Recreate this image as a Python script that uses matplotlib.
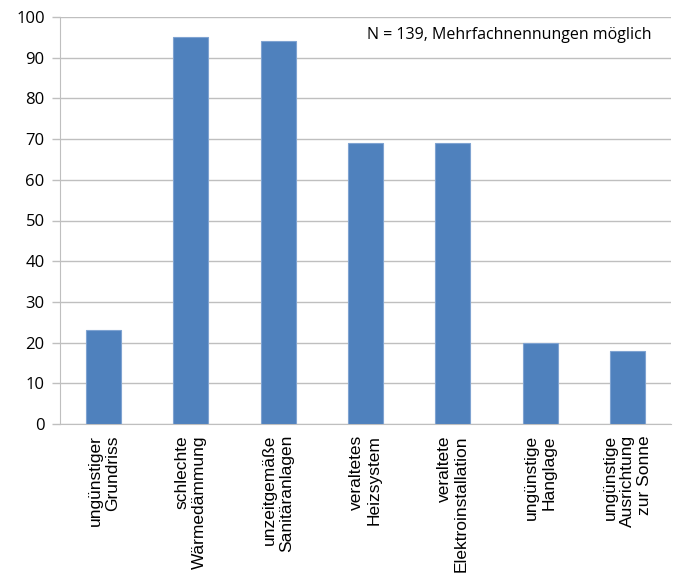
import matplotlib.pyplot as plt

categories = ["ungünstiger\nGrundriss", "schlechte\nWärmedämmung", "unzeitgemäße\nSanitäranlagen",
              "veraltetes\nHeizsystem", "veraltete\nElektroinstallation", "ungünstige\nHanglage",
              "ungünstige\nAusrichtung\nzur Sonne"]
values = [23, 95, 94, 69, 69, 20, 18]
yticks = list(range(0, 101, 10))
note = "N = 139, Mehrfachnennungen möglich"

fig = plt.figure(figsize=(6.78, 5.84), dpi=100)
ax = fig.add_axes([60 / 678, 1 - 424 / 584, 611 / 678, 407 / 584])

x = list(range(len(categories)))
ax.bar(x, values, width=0.4, color="#4F81BD", edgecolor="#7FA3D1", linewidth=0.8, zorder=3)

ax.set_xlim(-0.5, len(categories) - 0.5)
ax.set_ylim(0, 100)
ax.set_yticks(yticks)
ax.set_yticklabels([str(t) for t in yticks], fontsize=12, family="Open Sans")
ax.yaxis.grid(True, color="#BFBFBF", linewidth=1, zorder=0)
ax.tick_params(axis="y", length=6, color="#BFBFBF", width=1, pad=5)

ax.set_xticks(x)
ax.set_xticklabels(categories, rotation=90, fontsize=12.5, family="Liberation Sans",
                   ha="center", va="top", multialignment="right", linespacing=1.2)
ax.tick_params(axis="x", length=0, pad=8)

for side in ["top", "right"]:
    ax.spines[side].set_visible(False)
ax.spines["left"].set_color("#BFBFBF")
ax.spines["bottom"].set_color("#BFBFBF")

ax.text(0.735, 0.975, note, transform=ax.transAxes, ha="center", va="top",
        fontsize=11.5, family="Open Sans")

fig.savefig("out.png", dpi=100)
